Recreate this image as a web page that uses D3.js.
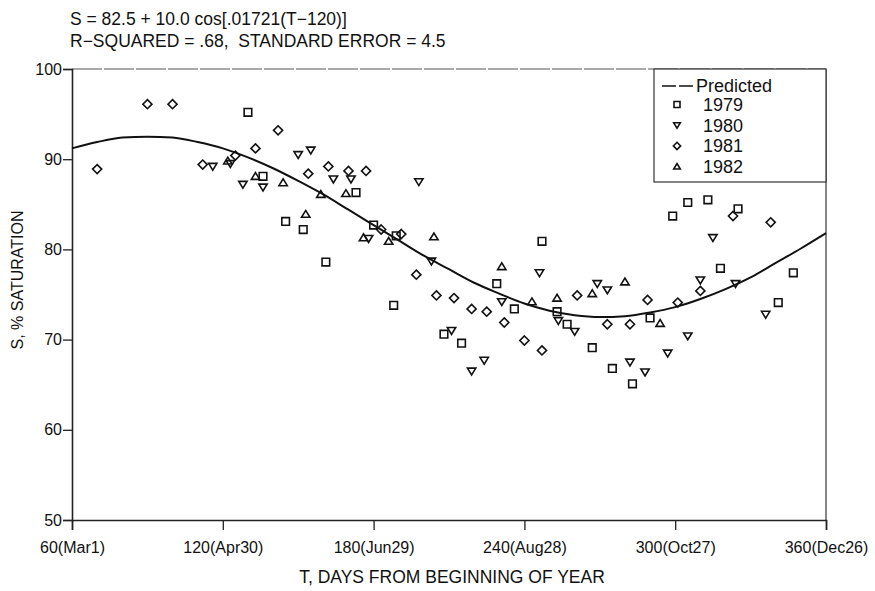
<!DOCTYPE html>
<html>
<head>
  <title>Saturation by day of year</title>
  <script src="https://d3js.org/d3.v7.min.js"></script>
  <style>
    body { margin: 0; background: #fff; }
    svg text { font-family: "Liberation Sans", Arial, sans-serif; fill: #111; white-space: pre; }
  </style>
</head>
<body>
  <div id="chart"></div>
  <script>
    // values
    var titleLines = ['S = 82.5 + 10.0 cos[.01721(T\u2212120)]', 'R\u2212SQUARED = .68,  STANDARD ERROR = 4.5'];
    var xTicks = [60, 120, 180, 240, 300, 360];
    var xTickLabels = ['60(Mar1)', '120(Apr30)', '180(Jun29)', '240(Aug28)', '300(Oct27)', '360(Dec26)'];
    var yTicks = [50, 60, 70, 80, 90, 100];

    // predicted curve, read every 10 days
    var predDays = [60, 70, 80, 90, 100, 110, 120, 130, 140, 150, 160, 170, 180, 190, 200, 210,
      220, 230, 240, 250, 260, 270, 280, 290, 300, 310, 320, 330, 340, 350, 360];
    var predValues = [91.2, 91.9, 92.4, 92.5, 92.4, 91.9, 91.2, 90.2, 89.0, 87.6, 86.1, 84.4, 82.7, 81.0, 79.3, 77.8,
      76.3, 75.1, 74.0, 73.2, 72.7, 72.5, 72.6, 73.0, 73.6, 74.5, 75.6, 76.9, 78.5, 80.1, 81.8];

    var obs1979 = [[130, 95.2], [136, 88.1], [145, 83.1], [152, 82.2], [161, 78.6], [173, 86.3], [180, 82.7],
      [189, 81.5], [188, 73.8], [208, 70.6], [215, 69.6], [229, 76.2], [236, 73.4], [247, 80.9], [253, 73.1],
      [257, 71.7], [267, 69.1], [275, 66.8], [283, 65.1], [290, 72.4], [299, 83.7], [305, 85.2], [313, 85.5],
      [318, 77.9], [325, 84.5], [341, 74.1], [347, 77.4]];
    var obs1980 = [[116, 89.2], [123, 89.5], [128, 87.2], [136, 86.9], [150, 90.5], [155, 91.0], [164, 87.8],
      [171, 87.8], [178, 81.2], [198, 87.5], [203, 78.7], [211, 71.0], [219, 66.5], [224, 67.7], [231, 74.2],
      [246, 77.4], [253.5, 72.1], [260, 70.9], [269, 76.2], [273, 75.5], [282, 67.5], [288, 66.4], [297, 68.5],
      [305, 70.4], [310, 76.6], [315, 81.3], [324, 76.2], [336, 72.8]];
    var obs1981 = [[70, 88.9], [90, 96.1], [100, 96.1], [112, 89.4], [125, 90.4], [133, 91.2], [142, 93.2],
      [154, 88.4], [162, 89.2], [170, 88.7], [177, 88.7], [183, 82.2], [191, 81.7], [197, 77.2], [205, 74.9],
      [212, 74.6], [219, 73.4], [225, 73.1], [232, 71.9], [240, 69.9], [247, 68.8], [261, 74.9], [273, 71.7],
      [282, 71.7], [289, 74.4], [301, 74.1], [310, 75.4], [323, 83.7], [338, 83.0]];
    var obs1982 = [[122, 89.8], [133, 88.1], [144, 87.4], [153, 83.9], [159, 86.1], [169, 86.2], [176, 81.3],
      [186, 80.9], [204, 81.4], [231, 78.1], [243, 74.2], [253, 74.6], [267, 75.1], [280, 76.4], [294, 71.8]];

    var years = ['1979', '1980', '1981', '1982'];
    var seriesData = [obs1979, obs1980, obs1981, obs1982];

    var width = 875, height = 591;
    var plotL = 72, plotR = 826, plotT = 69, plotB = 520;

    var svg = d3.select('#chart').append('svg')
      .attr('width', width)
      .attr('height', height);

    var x = d3.scaleLinear().domain([60, 360]).range([plotL, plotR]);
    var y = d3.scaleLinear().domain([50, 100]).range([plotB, plotT]);

    // marker shapes, open black outlines
    function markerPath(kind, s) {
      if (kind == 0) return 'M' + (-s) + ',' + (-s) + 'H' + s + 'V' + s + 'H' + (-s) + 'Z';
      if (kind == 1) return 'M' + (-s * 1.1) + ',' + (-s * 0.8) + 'H' + (s * 1.1) + 'L0,' + (s * 1.0) + 'Z';
      if (kind == 2) return 'M0,' + (-s * 1.2) + 'L' + (s * 1.2) + ',0L0,' + (s * 1.2) + 'L' + (-s * 1.2) + ',0Z';
      return 'M' + (-s * 1.1) + ',' + (s * 0.8) + 'H' + (s * 1.1) + 'L0,' + (-s * 1.0) + 'Z';
    }

    // titles
    svg.selectAll('.title').data(titleLines).enter().append('text')
      .attr('x', 70)
      .attr('y', function(d, i) { return 25 + i * 22; })
      .style('font-size', '17.5px')
      .text(function(d) { return d; });

    // frame: top and right edges are lighter on the scan
    svg.append('line').attr('x1', plotL).attr('x2', plotR).attr('y1', plotT).attr('y2', plotT)
      .attr('stroke', '#555').attr('stroke-width', 1.2).attr('stroke-dasharray', '30,2');
    svg.append('line').attr('x1', plotR).attr('x2', plotR).attr('y1', plotT).attr('y2', plotB)
      .attr('stroke', '#444').attr('stroke-width', 1.3);

    var xAxis = svg.append('g')
      .attr('transform', 'translate(0,' + plotB + ')')
      .call(d3.axisBottom(x).tickValues(xTicks).tickSize(10).tickPadding(12)
        .tickFormat(function(d, i) { return xTickLabels[i]; }));
    xAxis.selectAll('text').style('font-size', '16px').attr('fill', '#111');

    var yAxis = svg.append('g')
      .attr('transform', 'translate(' + plotL + ',0)')
      .call(d3.axisLeft(y).tickValues(yTicks).tickSize(9).tickPadding(1));
    yAxis.selectAll('text').style('font-size', '16px').attr('fill', '#111');

    [xAxis, yAxis].forEach(function(a) {
      a.select('.domain').attr('stroke', '#222').attr('stroke-width', 1.6);
      a.selectAll('.tick line').attr('stroke', '#222').attr('stroke-width', 1.3);
    });

    // axis titles
    svg.append('text')
      .attr('x', (plotL + plotR) / 2 + 3)
      .attr('y', 583)
      .attr('text-anchor', 'middle')
      .style('font-size', '17.5px')
      .text('T, DAYS FROM BEGINNING OF YEAR');
    svg.append('text')
      .attr('transform', 'translate(23,280) rotate(-90)')
      .attr('text-anchor', 'middle')
      .style('font-size', '16px')
      .text('S, % SATURATION');

    // predicted curve
    var line = d3.line()
      .x(function(d, i) { return x(predDays[i]); })
      .y(function(d) { return y(d); })
      .curve(d3.curveMonotoneX);
    svg.append('path')
      .datum(predValues)
      .attr('fill', 'none')
      .attr('stroke', '#111')
      .attr('stroke-width', 2)
      .attr('d', line);

    // observations
    seriesData.forEach(function(pts, k) {
      svg.append('g').selectAll('path').data(pts).enter().append('path')
        .attr('transform', function(d) { return 'translate(' + x(d[0]) + ',' + y(d[1]) + ')'; })
        .attr('d', markerPath(k, 3.8))
        .attr('fill', 'none')
        .attr('stroke', '#111')
        .attr('stroke-width', 1.6);
    });

    // legend box
    var lg = svg.append('g');
    lg.append('rect')
      .attr('x', 654).attr('y', plotT)
      .attr('width', plotR - 654).attr('height', 113)
      .attr('fill', '#fff')
      .attr('stroke', '#333')
      .attr('stroke-width', 1.2);
    lg.append('line')
      .attr('x1', 662).attr('x2', 694).attr('y1', 86).attr('y2', 86)
      .attr('stroke', '#111').attr('stroke-width', 1.4).attr('stroke-dasharray', '14,3');
    lg.append('text').attr('x', 696).attr('y', 92).style('font-size', '18px').text('Predicted');
    years.forEach(function(yr, k) {
      var yy = 104.5 + k * 20.7;
      lg.append('path')
        .attr('transform', 'translate(677,' + yy + ')')
        .attr('d', markerPath(k, 3))
        .attr('fill', 'none')
        .attr('stroke', '#111')
        .attr('stroke-width', 1.6);
      lg.append('text').attr('x', 703).attr('y', yy + 6.5).style('font-size', '18px').text(yr);
    });
  </script>
</body>
</html>
